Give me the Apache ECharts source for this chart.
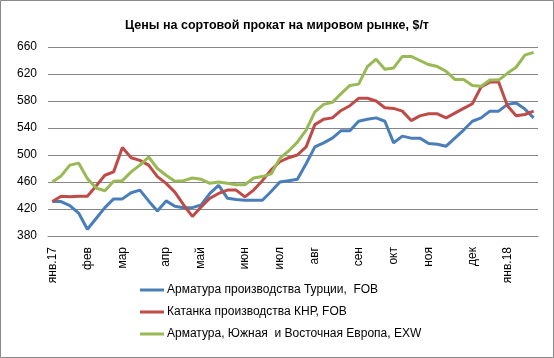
<!DOCTYPE html>
<html>
<head>
<meta charset="utf-8">
<script src="https://cdn.jsdelivr.net/npm/echarts@6/dist/echarts.min.js"></script>
<style>
html,body{margin:0;padding:0;background:#fff;}
#c{width:554px;height:358px;}
</style>
</head>
<body>
<div id="c"></div>
<script>
// Weekly categories (Wednesdays Jan 2017 – Jan 2018); month label on first week of each month
const categories = [
  'янв.17','','','',
  'фев','','','',
  'мар','','','','',
  'апр','','','',
  'май','','','','',
  'июн','','','',
  'июл','','','',
  'авг','','','','',
  'сен','','','',
  'окт','','','',
  'ноя','','','','',
  'дек','','','',
  'янв.18','','',''
];

const seriesNames = [
  'Арматура производства Турции,  FOB',
  'Катанка производства КНР, FOB',
  'Арматура, Южная  и Восточная Европа, EXW'
];

const turkeyRebar = [
  431,431,425,414,390,406,422,435,435,444,448,432,417,432,424,422,422,426,443,455,
  436,434,433,433,433,446,460,462,464,487,512,518,525,536,536,550,553,555,550,518,
  528,525,525,517,516,513,525,537,550,555,565,565,575,577,568,555
];

const chinaWireRod = [
  431,439,438,439,439,454,470,475,511,496,492,485,468,458,445,426,409,423,436,443,
  448,448,438,448,462,478,490,496,500,512,545,553,555,566,573,584,584,580,570,569,
  565,551,558,561,561,555,562,569,576,601,608,608,573,558,560,565
];

const europeRebar = [
  460,469,485,488,465,451,447,461,462,475,485,497,480,470,461,462,466,464,458,460,
  458,456,456,466,468,472,495,506,519,537,564,575,578,591,603,605,631,642,627,629,
  646,646,640,634,631,624,612,612,603,602,611,611,621,630,648,652
];

const yTicks = {min: 380, max: 660, interval: 40};
const colors = ['#4a7ebb', '#be4b48', '#98b954'];

const chart = echarts.init(document.getElementById('c'), null, {renderer: 'canvas'});
const font = '"Liberation Sans", Arial, sans-serif';

chart.setOption({
  backgroundColor: '#fff',
  animation: false,
  color: colors,
  title: {
    text: 'Цены на сортовой прокат на мировом рынке, $/т',
    left: 'center',
    top: 14,
    textStyle: {fontFamily: font, fontSize: 12.5, fontWeight: 'bold', color: '#000'}
  },
  graphic: [{
    type: 'rect', silent: true,
    shape: {x: 0.5, y: 0.5, width: 553, height: 357},
    style: {fill: 'none', stroke: '#888', lineWidth: 1}
  }],
  legend: {
    orient: 'vertical',
    left: 135,
    top: 278,
    itemWidth: 24,
    itemHeight: 3,
    itemGap: 8,
    icon: 'rect',
    textStyle: {fontFamily: font, fontSize: 12, color: '#000', lineHeight: 14, padding: [0,0,0,-2]},
    data: seriesNames
  },
  grid: {left: 48, right: 16, top: 47, bottom: 122, containLabel: false},
  xAxis: {
    type: 'category',
    data: categories,
    boundaryGap: true,
    axisLine: {show: true, lineStyle: {color: '#868686', width: 1}},
    axisTick: {show: false},
    axisLabel: {interval: 0, rotate: 90, fontFamily: font, fontSize: 12, color: '#000', margin: 11}
  },
  yAxis: {
    type: 'value',
    min: yTicks.min, max: yTicks.max, interval: yTicks.interval,
    axisLine: {show: false},
    axisTick: {show: false},
    splitLine: {lineStyle: {color: '#868686', width: 1}},
    axisLabel: {fontFamily: font, fontSize: 12, color: '#000', margin: 11}
  },
  series: [
    {name: seriesNames[0], type: 'line', data: turkeyRebar, symbol: 'none', lineStyle: {width: 3}},
    {name: seriesNames[1], type: 'line', data: chinaWireRod, symbol: 'none', lineStyle: {width: 3}},
    {name: seriesNames[2], type: 'line', data: europeRebar, symbol: 'none', lineStyle: {width: 3}}
  ]
});
</script>
</body>
</html>
